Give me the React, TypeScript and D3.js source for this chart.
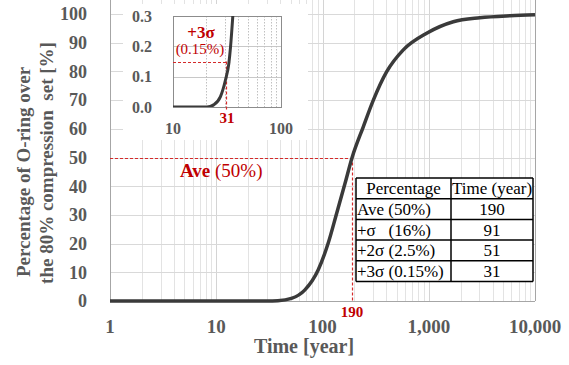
import React from 'react';
import * as d3 from 'd3';

// main curve (time in years, percent)
const mainTime = [1, 10, 30, 38, 51, 68, 91, 113, 136, 163, 190, 242, 301, 402, 576, 956, 1703, 3020, 5820, 10000];
const mainPct = [0, 0, 0, 0.1, 0.9, 3.8, 10.8, 20.1, 30.6, 41, 50, 60.7, 70, 79.9, 87.5, 93.3, 97.3, 98.7, 99.4, 99.7];

// inset zoom on the start of the curve
const insetTime = [10, 20.6, 23.8, 27.5, 30.6, 32.9, 34.1, 35.8];
const insetPct = [0, 0, 0.007, 0.034, 0.089, 0.144, 0.198, 0.3];

const xTicks = [1, 10, 100, 1000, 10000];
const yTicks = [0, 10, 20, 30, 40, 50, 60, 70, 80, 90, 100];
const insetXTicks = [10, 100];
const insetYTicks = [0, 0.1, 0.2, 0.3];

const aveTime = 190;
const avePct = 50;
const sigma3Time = 31;
const sigma3Pct = 0.15;

const tableHeader = ['Percentage', 'Time (year)'];
const tableLabels = ['Ave (50%)', '+σ   (16%)', '+2σ (2.5%)', '+3σ (0.15%)'];
const tableTimes = [190, 91, 51, 31];

const FONT = '"Liberation Serif", "Times New Roman", serif';
const GREY = '#595959';
const RED = '#c00000';
const DASH_RED = '#d42a2a';

// snap a coordinate to the middle of a pixel so 1px lines stay crisp
const px = (v: number) => Math.round(v) + 0.5;

export default function App() {
  const width = 569;
  const height = 365;

  const x = d3.scaleLog().domain([1, 10000]).range([110, 535]);
  const y = d3.scaleLinear().domain([0, 100]).range([301, 14]);
  const plotTop = 0;

  const ix = d3.scaleLog().domain([10, 100]).range([173, 281]);
  const iy = d3.scaleLinear().domain([0, 0.3]).range([107, 16]);

  const fmt = d3.format(',');

  const minor: number[] = [];
  for (let d = 1; d < 10000; d *= 10) {
    for (let k = 2; k <= 9; k++) minor.push(d * k);
  }
  const insetMinor = [20, 30, 40, 50, 60, 70, 80, 90];

  const line = d3
    .line<number>()
    .x((_, i) => x(mainTime[i]))
    .y((d) => y(d))
    .curve(d3.curveMonotoneX);

  const insetLine = d3
    .line<number>()
    .x((_, i) => ix(insetTime[i]))
    .y((d) => iy(d))
    .curve(d3.curveMonotoneX);

  // table geometry
  const colX = [356, 451, 533];
  const rowTop = 178;
  const rowH = 20.7;
  const nRows = tableLabels.length + 1;

  return (
    <svg
      width={width}
      height={height}
      style={{ position: 'absolute', left: 0, top: 0, background: '#fff' }}
      fontFamily={FONT}
    >
      <defs>
        <clipPath id="inset-clip">
          <rect x={173} y={16} width={108} height={91} />
        </clipPath>
      </defs>

      {/* main grid */}
      {minor.map((m) => (
        <line key={`mn-${m}`} x1={px(x(m))} x2={px(x(m))} y1={plotTop} y2={y(0)} stroke="#e3e3e3" strokeWidth={1} />
      ))}
      {xTicks.map((t) => (
        <line key={`mj-${t}`} x1={px(x(t))} x2={px(x(t))} y1={plotTop} y2={y(0)} stroke="#d4d4d4" strokeWidth={1} />
      ))}
      {yTicks.map((t) => (
        <line key={`hg-${t}`} x1={x(1)} x2={x(10000)} y1={px(y(t))} y2={px(y(t))} stroke="#d9d9d9" strokeWidth={1} />
      ))}
      <line x1={px(x(1))} x2={px(x(1))} y1={plotTop} y2={y(0)} stroke="#a6a6a6" />
      <line x1={px(x(10000))} x2={px(x(10000))} y1={plotTop} y2={y(0)} stroke="#a6a6a6" />
      <line x1={x(1)} x2={x(10000)} y1={px(y(0))} y2={px(y(0))} stroke="#a6a6a6" />

      {/* axis labels */}
      {yTicks.map((t) => (
        <text key={`yl-${t}`} x={87} y={y(t)} dy="0.35em" textAnchor="end" fontSize={18} fontWeight="bold" fill={GREY}>
          {t}
        </text>
      ))}
      {xTicks.map((t) => (
        <text key={`xl-${t}`} x={x(t)} y={333} textAnchor="middle" fontSize={19} fontWeight="bold" fill={GREY}>
          {fmt(t)}
        </text>
      ))}
      <text x={304} y={353} textAnchor="middle" fontSize={20} fontWeight="bold" fill={GREY}>
        Time [year]
      </text>
      <text transform="translate(23,172) rotate(-90)" textAnchor="middle" dy="0.35em" fontSize={19} fontWeight="bold" fill={GREY}>
        Percentage of O-ring over
      </text>
      <text transform="translate(46,163) rotate(-90)" textAnchor="middle" dy="0.35em" fontSize={19} fontWeight="bold" fill={GREY} style={{ whiteSpace: 'pre' }}>
        {'the 80% compression  set [%]'}
      </text>

      {/* average marker */}
      <line x1={x(1)} x2={x(aveTime)} y1={px(y(avePct))} y2={px(y(avePct))} stroke={DASH_RED} strokeWidth={1.2} strokeDasharray="3 2" />
      <line x1={px(x(aveTime))} x2={px(x(aveTime))} y1={y(avePct)} y2={y(0)} stroke={DASH_RED} strokeWidth={1.2} strokeDasharray="3 2" />
      <text x={180} y={177} fontSize={19} fill={RED}>
        <tspan fontWeight="bold">Ave</tspan> (50%)
      </text>
      <text x={x(aveTime)} y={317} textAnchor="middle" fontSize={15} fontWeight="bold" fill={RED}>
        {aveTime}
      </text>

      {/* main curve */}
      <path d={line(mainPct) ?? ''} fill="none" stroke="#3a3a3a" strokeWidth={3.5} strokeLinejoin="round" />

      {/* table */}
      <rect x={colX[0]} y={rowTop} width={colX[2] - colX[0]} height={rowH * nRows} fill="#fff" />
      {d3.range(nRows + 1).map((r) => (
        <line key={`tr-${r}`} x1={colX[0]} x2={colX[2]} y1={rowTop + r * rowH} y2={rowTop + r * rowH} stroke="#000" strokeWidth={1.5} />
      ))}
      {colX.map((cx) => (
        <line key={`tc-${cx}`} x1={cx} x2={cx} y1={rowTop} y2={rowTop + rowH * nRows} stroke="#000" strokeWidth={1.5} />
      ))}
      <text x={(colX[0] + colX[1]) / 2} y={rowTop + rowH / 2} dy="0.35em" textAnchor="middle" fontSize={17} fill="#000">
        {tableHeader[0]}
      </text>
      <text x={(colX[1] + colX[2]) / 2} y={rowTop + rowH / 2} dy="0.35em" textAnchor="middle" fontSize={17} fill="#000">
        {tableHeader[1]}
      </text>
      {tableLabels.map((lab, i) => (
        <g key={`row-${i}`}>
          <text x={colX[0] + 1} y={rowTop + (i + 1.5) * rowH} dy="0.35em" fontSize={17} fill="#000" style={{ whiteSpace: 'pre' }}>
            {lab}
          </text>
          <text x={(colX[1] + colX[2]) / 2} y={rowTop + (i + 1.5) * rowH} dy="0.35em" textAnchor="middle" fontSize={17} fill="#000">
            {tableTimes[i]}
          </text>
        </g>
      ))}

      {/* inset */}
      <rect x={123} y={4} width={185} height={136} fill="#fff" />
      {insetYTicks.slice(1, -1).map((t) => (
        <line key={`ihg-${t}`} x1={ix(10)} x2={ix(100)} y1={px(iy(t))} y2={px(iy(t))} stroke="#c8c8c8" />
      ))}
      {insetMinor.map((m) => (
        <line key={`ivg-${m}`} x1={px(ix(m))} x2={px(ix(m))} y1={iy(0.3)} y2={iy(0)} stroke="#c0c0c0" strokeDasharray="1.5 1.5" />
      ))}
      <rect x={px(ix(10))} y={px(iy(0.3))} width={Math.round(ix(100) - ix(10))} height={Math.round(iy(0) - iy(0.3))} fill="none" stroke="#8c8c8c" />
      {insetYTicks.map((t) => (
        <text key={`iyl-${t}`} x={152} y={iy(t)} dy="0.35em" textAnchor="end" fontSize={16} fontWeight="bold" fill={GREY}>
          {t.toFixed(1)}
        </text>
      ))}
      {insetXTicks.map((t) => (
        <text key={`ixl-${t}`} x={ix(t)} y={134} textAnchor="middle" fontSize={16} fontWeight="bold" fill={GREY}>
          {t}
        </text>
      ))}
      <line x1={ix(10)} x2={ix(sigma3Time) + 4} y1={px(iy(sigma3Pct))} y2={px(iy(sigma3Pct))} stroke={DASH_RED} strokeWidth={1.2} strokeDasharray="3 2" />
      <line x1={px(ix(sigma3Time))} x2={px(ix(sigma3Time))} y1={iy(sigma3Pct)} y2={iy(0) + 4} stroke={DASH_RED} strokeWidth={1.2} strokeDasharray="3 2" />
      <path d={insetLine(insetPct) ?? ''} fill="none" stroke="#3a3a3a" strokeWidth={3} clipPath="url(#inset-clip)" />
      <text x={201} y={38} textAnchor="middle" fontSize={17} fontWeight="bold" fill={RED}>
        +3σ
      </text>
      <text x={200} y={54} textAnchor="middle" fontSize={15} fill={RED}>
        (0.15%)
      </text>
      <text x={ix(sigma3Time) + 1} y={123} textAnchor="middle" fontSize={15} fontWeight="bold" fill={RED}>
        {sigma3Time}
      </text>
    </svg>
  );
}
